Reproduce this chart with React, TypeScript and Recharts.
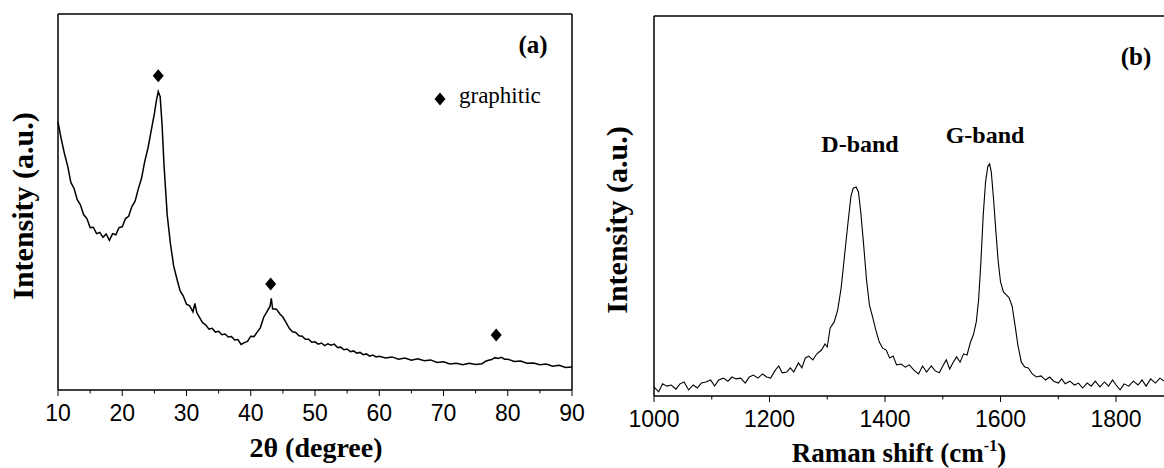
import React from "react";
import { ComposedChart, Line, Scatter, XAxis, YAxis } from "recharts";

// (a) XRD pattern
const xrdAngle = [
  10, 10.5, 11, 11.5, 12, 12.5, 13, 13.5, 14, 14.5, 15, 15.5, 16, 16.5, 17, 17.5, 18, 18.5, 19, 19.5,
  20, 20.5, 21, 21.5, 22, 22.5, 23, 23.5, 24, 24.5, 25, 25.3, 25.6, 25.9, 26.2, 26.5, 27, 27.5, 28, 28.5,
  29, 29.5, 30, 30.5, 31, 31.3, 31.6, 32, 32.5, 33, 33.5, 34, 34.5, 35, 35.5, 36, 36.5, 37, 37.5, 38,
  38.5, 39, 39.5, 40, 40.5, 41, 41.5, 42, 42.5, 43, 43.2, 43.4, 44, 44.5, 45, 45.5, 46, 46.5, 47, 47.5,
  48, 48.5, 49, 49.5, 50, 50.5, 51, 51.5, 52, 52.5, 53, 53.5, 54, 54.5, 55, 55.5, 56, 56.5, 57, 57.5,
  58, 58.5, 59, 59.5, 60, 61, 62, 63, 64, 65, 66, 67, 68, 69, 70, 71, 72, 73, 74, 75,
  76, 76.5, 77, 77.5, 78, 78.5, 79, 79.5, 80, 81, 82, 83, 84, 85, 86, 87, 88, 89, 90,
];
const xrdIntensity = [
  71.3, 66.8, 62.9, 59.6, 55.2, 53.6, 50.6, 49.2, 46.6, 45.6, 43.2, 43.3, 41.6, 41.9, 40.6, 41.5, 39.8, 41.6, 41.3, 43.2,
  43.4, 45.6, 46.2, 48.8, 50.2, 53.5, 56.3, 60.8, 64.3, 68.9, 73.5, 76.8, 79.4, 78.0, 70.5, 59.8, 46.5, 38.9, 33.0, 29.6,
  26.4, 25.0, 22.8, 22.4, 20.8, 23.0, 20.6, 19.4, 17.9, 17.3, 16.2, 16.4, 15.4, 15.6, 14.7, 14.9, 14.1, 14.2, 13.3, 13.4,
  12.1, 12.6, 12.9, 14.3, 14.2, 15.4, 16.6, 19.3, 20.8, 22.3, 24.4, 21.6, 21.5, 20.3, 19.4, 17.9, 16.4, 15.5, 15.3, 14.4,
  14.3, 13.5, 13.5, 12.7, 12.8, 12.2, 12.5, 11.8, 12.3, 11.9, 12.2, 11.3, 11.4, 10.7, 10.9, 10.2, 10.4, 9.8, 10.0, 9.4,
  9.6, 9.0, 9.3, 8.8, 9.0, 8.5, 8.8, 8.2, 8.5, 7.9, 8.3, 7.8, 8.0, 7.3, 7.5, 6.9, 7.1, 6.7, 7.1, 6.8,
  7.0, 7.6, 7.9, 8.1, 8.6, 8.4, 8.7, 8.2, 8.2, 7.6, 7.7, 7.1, 7.2, 6.7, 6.9, 6.3, 6.6, 6.0, 6.1,
];
const xrdPeakAngle = [25.6, 43.1, 78.2];
const xrdPeakMark = [83.6, 28.2, 14.6];
const xrdTicks = [10, 15, 20, 25, 30, 35, 40, 45, 50, 55, 60, 65, 70, 75, 80, 85, 90];
const xrdLabelled = [10, 20, 30, 40, 50, 60, 70, 80, 90];
const xrdTopTicks = [15, 20, 25, 30, 35, 40, 45, 50, 55, 60, 65, 70, 75, 80, 85];
const xrdYTicks = [5, 10, 15, 20, 25, 30, 35, 40, 45, 50, 55, 60, 65, 70, 75, 80, 85, 90, 95];

// (b) Raman spectrum
const ramanShift = [
  1000, 1008, 1015, 1022, 1030, 1038, 1045, 1052, 1060, 1068, 1075, 1082, 1090, 1098, 1105, 1112, 1120, 1128, 1135, 1142,
  1150, 1158, 1165, 1172, 1180, 1188, 1195, 1202, 1210, 1216, 1222, 1230, 1236, 1242, 1250, 1256, 1262, 1268, 1275, 1282,
  1290, 1296, 1300, 1305, 1312, 1318, 1324, 1330, 1336, 1341, 1345, 1350, 1354, 1358, 1363, 1368, 1373, 1378, 1384, 1390,
  1396, 1402, 1408, 1414, 1420, 1428, 1435, 1442, 1450, 1458, 1465, 1472, 1480, 1487, 1494, 1500, 1506, 1512, 1518, 1524,
  1530, 1536, 1542, 1548, 1553, 1558, 1562, 1566, 1570, 1574, 1578, 1581, 1584, 1588, 1592, 1596, 1600, 1605, 1610, 1615,
  1620, 1625, 1630, 1636, 1642, 1648, 1655, 1662, 1670, 1678, 1685, 1692, 1700, 1706, 1712, 1720, 1728, 1735, 1742, 1750,
  1757, 1764, 1772, 1780, 1787, 1794, 1800, 1807, 1814, 1822, 1830, 1838, 1845, 1852, 1860, 1868, 1876, 1883,
];
const ramanIntensity = [
  2.4, 1.1, 3.2, 2.6, 2.9, 1.8, 3.2, 3.7, 1.6, 2.9, 2.1, 3.4, 3.7, 4.2, 2.6, 4.2, 4.7, 3.9, 5.0, 4.5,
  4.7, 3.4, 5.0, 5.5, 4.7, 5.8, 5.0, 4.7, 6.8, 7.9, 6.1, 6.3, 7.4, 6.3, 8.7, 7.4, 10.0, 10.5, 9.5, 11.1,
  12.1, 13.7, 12.9, 17.9, 19.5, 22.6, 28.4, 37.1, 45.8, 52.6, 54.7, 55.0, 53.7, 48.4, 39.7, 30.5, 23.9, 21.1, 17.4, 14.2,
  12.6, 12.1, 10.0, 10.5, 8.2, 8.4, 7.6, 8.2, 6.8, 5.8, 7.9, 6.3, 7.9, 6.6, 6.1, 7.9, 9.5, 7.1, 8.9, 10.3,
  8.9, 11.1, 10.8, 14.2, 16.1, 19.5, 25.3, 35.3, 47.6, 56.3, 60.5, 61.1, 58.9, 51.6, 43.2, 35.3, 30.0, 27.4, 26.6, 25.8,
  23.7, 18.7, 13.4, 8.9, 7.6, 7.4, 5.8, 5.0, 5.3, 4.2, 5.0, 3.9, 3.4, 4.5, 3.2, 3.9, 2.9, 3.4, 2.1, 3.4,
  2.6, 3.9, 2.4, 3.7, 2.6, 4.2, 2.9, 1.6, 3.2, 2.6, 3.9, 2.9, 4.2, 2.6, 4.5, 3.4, 4.7, 3.9,
];
const ramanTicks = [1000, 1100, 1200, 1300, 1400, 1500, 1600, 1700, 1800];
const ramanLabelled = [1000, 1200, 1400, 1600, 1800];
const ramanTopTicks = [1100, 1200, 1300, 1400, 1500, 1600, 1700, 1800];
const ramanYTicks = Array.from({ length: 23 }, (_, i) => ((i + 1) * 100) / 24);

const xrdData = xrdAngle.map((x, i) => ({ x, y: xrdIntensity[i] }));
const xrdPeaks = xrdPeakAngle.map((x, i) => ({ x, y: xrdPeakMark[i] }));
const ramanData = ramanShift.map((x, i) => ({ x, y: ramanIntensity[i] }));

const sans = '"Liberation Sans", Arial, sans-serif';
const serif = '"Liberation Serif", "Times New Roman", serif';
const axisLine = { stroke: "#000", strokeWidth: 1.5 };
const tickLine = { stroke: "#000", strokeWidth: 1 };
const TICK_GAP = 15; // distance axis -> top of tick label

// bottom tick: long mark + label on the labelled values, short mark elsewhere
const BottomTick = ({ x, y, payload, labelled }: any) => {
  const major = labelled.includes(payload.value);
  const top = y - TICK_GAP;
  return (
    <g>
      <line x1={x} x2={x} y1={top} y2={top + (major ? 6 : 3.5)} stroke="#000" strokeWidth={1} />
      {major && (
        <text x={x} y={y} dy="0.71em" textAnchor="middle" fill="#000" fontSize={23} fontFamily={sans}>
          {payload.value}
        </text>
      )}
    </g>
  );
};

const Diamond = ({ cx, cy }: any) => (
  <polygon
    points={`${cx},${cy - 6.5} ${cx + 5.5},${cy} ${cx},${cy + 6.5} ${cx - 5.5},${cy}`}
    fill="#000"
  />
);

const Txt = ({ x, y, size, bold, rotate, children }: any) => (
  <div
    style={{
      position: "absolute",
      left: x,
      top: y,
      transform: `translate(-50%, -50%)${rotate ? " rotate(-90deg)" : ""}`,
      fontFamily: serif,
      fontSize: size,
      fontWeight: bold ? "bold" : "normal",
      lineHeight: 1,
      whiteSpace: "nowrap",
      color: "#000",
    }}
  >
    {children}
  </div>
);

export default function App() {
  return (
    <div
      style={{
        position: "absolute",
        left: 0,
        top: 0,
        width: 1164,
        height: 468,
        overflow: "hidden",
        background: "#fff",
      }}
    >
      <div style={{ position: "absolute", left: 0, top: 0 }}>
        <ComposedChart width={600} height={468} margin={{ top: 14, right: 28, bottom: 77, left: 58 }}>
          <XAxis xAxisId="b" type="number" dataKey="x" domain={[10, 90]} ticks={xrdTicks} interval={0}
            height={1} tickSize={0} tickMargin={TICK_GAP} axisLine={axisLine} tickLine={false}
            tick={(p: any) => <BottomTick {...p} labelled={xrdLabelled} />} />
          <XAxis xAxisId="top" orientation="top" mirror type="number" domain={[10, 90]} ticks={xrdTopTicks}
            tick={false} tickSize={3} height={1} axisLine={axisLine} tickLine={tickLine} />
          <YAxis yAxisId="l" mirror width={1} type="number" domain={[0, 100]} ticks={xrdYTicks}
            tick={false} tickSize={3} axisLine={axisLine} tickLine={tickLine} />
          <YAxis yAxisId="r" orientation="right" mirror width={1} type="number" domain={[0, 100]} ticks={xrdYTicks}
            tick={false} tickSize={3} axisLine={axisLine} tickLine={tickLine} />
          <Line xAxisId="b" yAxisId="l" data={xrdData} dataKey="y" type="linear" stroke="#000"
            strokeWidth={1.5} dot={false} isAnimationActive={false} />
          <Scatter xAxisId="b" yAxisId="l" data={xrdPeaks} dataKey="y" shape={(p: any) => <Diamond {...p} />}
            isAnimationActive={false} />
        </ComposedChart>
      </div>

      <div style={{ position: "absolute", left: 590, top: 0 }}>
        <ComposedChart width={574} height={468} margin={{ top: 16, right: 0, bottom: 71, left: 64 }}>
          <XAxis xAxisId="b" type="number" dataKey="x" domain={[1000, 1883]} ticks={ramanTicks} interval={0}
            height={1} tickSize={0} tickMargin={TICK_GAP} axisLine={axisLine} tickLine={false}
            tick={(p: any) => <BottomTick {...p} labelled={ramanLabelled} />} />
          <XAxis xAxisId="top" orientation="top" mirror type="number" domain={[1000, 1883]} ticks={ramanTopTicks}
            tick={false} tickSize={3} height={1} axisLine={axisLine} tickLine={tickLine} />
          <YAxis yAxisId="l" mirror width={1} type="number" domain={[0, 100]} ticks={ramanYTicks}
            tick={false} tickSize={3} axisLine={axisLine} tickLine={tickLine} />
          <Line xAxisId="b" yAxisId="l" data={ramanData} dataKey="y" type="linear" stroke="#000"
            strokeWidth={1.1} dot={false} isAnimationActive={false} />
        </ComposedChart>
      </div>

      {/* panel (a) texts */}
      <Txt x={533} y={44} size={25} bold>(a)</Txt>
      <svg style={{ position: "absolute", left: 434, top: 92 }} width={12} height={14}>
        <polygon points="6,0.5 11.5,7 6,13.5 0.5,7" fill="#000" />
      </svg>
      <div style={{ position: "absolute", left: 459, top: 95, transform: "translateY(-50%)", fontFamily: serif, fontSize: 23, lineHeight: 1, whiteSpace: "nowrap" }}>
        graphitic
      </div>
      <Txt x={316} y={448} size={28} bold>2θ (degree)</Txt>
      <Txt x={23} y={206} size={30} bold rotate>Intensity (a.u.)</Txt>

      {/* panel (b) texts */}
      <Txt x={1136} y={56} size={25} bold>(b)</Txt>
      <Txt x={860} y={144} size={24} bold>D-band</Txt>
      <Txt x={985} y={135} size={24} bold>G-band</Txt>
      <Txt x={899} y={453} size={27} bold>
        Raman shift (cm<span style={{ fontSize: 16, position: "relative", top: -11 }}>-1</span>)
      </Txt>
      <Txt x={617} y={220} size={30} bold rotate>Intensity (a.u.)</Txt>
    </div>
  );
}
